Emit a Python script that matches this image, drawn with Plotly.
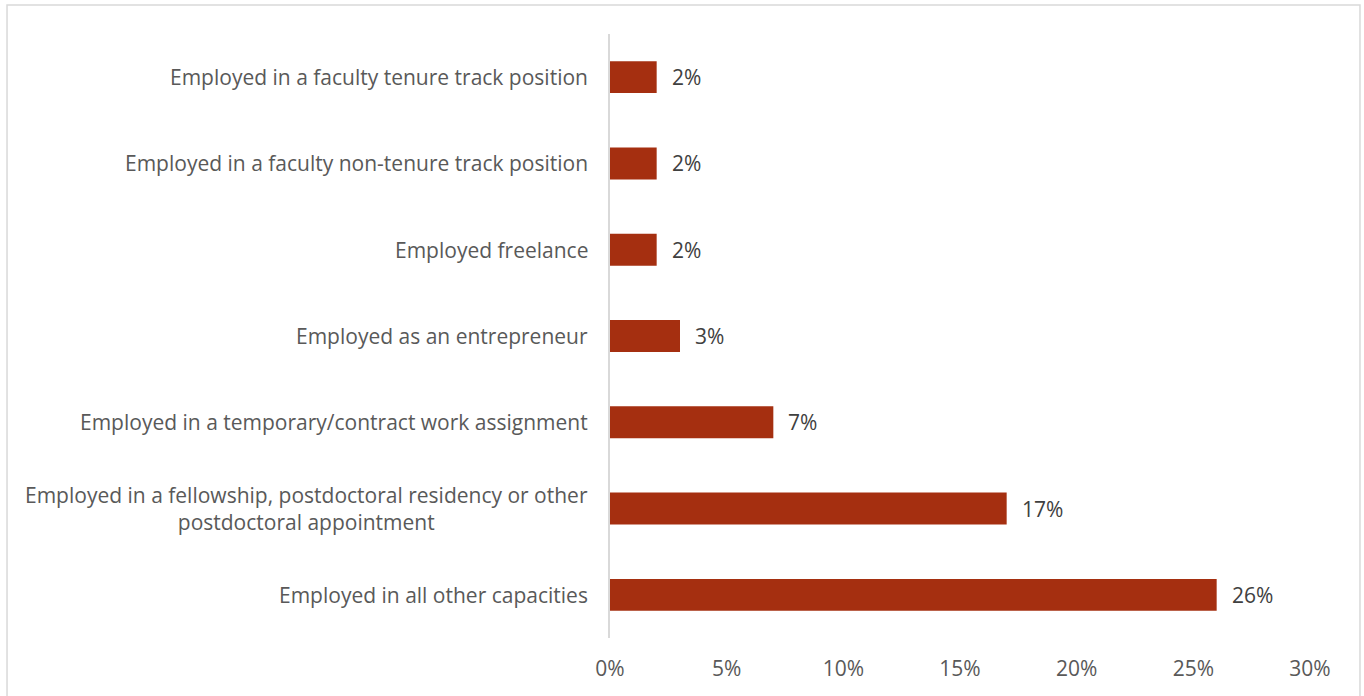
import plotly.graph_objects as go

categories = [
    "Employed in a faculty tenure track position",
    "Employed in a faculty non-tenure track position",
    "Employed freelance",
    "Employed as an entrepreneur",
    "Employed in a temporary/contract work assignment",
    "Employed in a fellowship, postdoctoral residency or other<br>postdoctoral appointment",
    "Employed in all other capacities",
]
values = [2, 2, 2, 3, 7, 17, 26]
x_ticks = [0, 5, 10, 15, 20, 25, 30]
x_tick_labels = ["0%", "5%", "10%", "15%", "20%", "25%", "30%"]

BAR_COLOR = "#A52F10"
TEXT_COLOR = "#595959"
FONT = "Open Sans"
FS = 21

# Reverse so the first category sits at the top
cats_plot = categories[::-1]
vals_plot = values[::-1]

fig = go.Figure(
    go.Bar(
        x=vals_plot,
        y=list(range(len(cats_plot))),
        orientation="h",
        marker=dict(color=BAR_COLOR, line=dict(width=0)),
        width=0.37,
        hoverinfo="skip",
    )
)

annotations = []
for i, (c, v) in enumerate(zip(cats_plot, vals_plot)):
    # value label to the right of each bar
    annotations.append(dict(
        x=v, y=i, xref="x", yref="y", text=f"{v}%", showarrow=False,
        xanchor="left", xshift=13, font=dict(size=FS, color="#404040", family=FONT),
    ))
    # category label left of the axis, multi-line labels centered
    annotations.append(dict(
        x=0, y=i, xref="paper", yref="y", text=c, showarrow=False,
        xanchor="right", align="center", xshift=-20,
        font=dict(size=FS, color=TEXT_COLOR, family=FONT),
    ))

fig.update_layout(
    width=1364, height=696,
    margin=dict(l=610, r=54, t=34, b=58),
    paper_bgcolor="white", plot_bgcolor="white",
    showlegend=False,
    font=dict(family=FONT, color=TEXT_COLOR, size=FS),
    xaxis=dict(
        range=[0, 30], tickvals=x_ticks, ticktext=x_tick_labels,
        showgrid=False, zeroline=False, showline=False, ticks="",
        tickfont=dict(size=FS, color=TEXT_COLOR, family=FONT),
        ticklabelstandoff=16,
    ),
    yaxis=dict(
        range=[-0.5, len(cats_plot) - 0.5], showticklabels=False,
        showgrid=False, zeroline=False, showline=True, linecolor="#D9D9D9",
        linewidth=2, ticks="",
    ),
    annotations=annotations,
    shapes=[dict(
        type="rect", xref="paper", yref="paper",
        x0=-0.8614, x1=1.0714, y0=-0.12, y1=1.048,
        line=dict(color="#D9D9D9", width=1.5), fillcolor="rgba(0,0,0,0)", layer="below",
    )],
)

fig.write_html("out.html")
